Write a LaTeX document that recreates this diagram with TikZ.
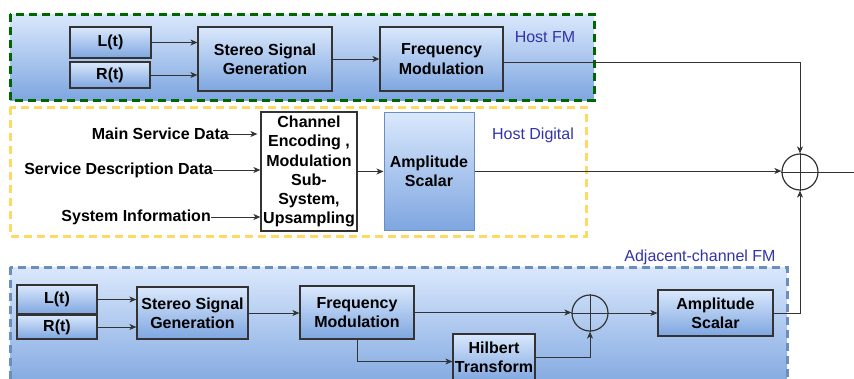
\documentclass[tikz,border=0pt]{standalone}
\usepackage{fontspec}
\setmainfont{Liberation Sans}
\usetikzlibrary{arrows.meta}
\definecolor{gradtop}{HTML}{DAE8FC}
\definecolor{gradbot}{HTML}{7EA6E0}
\definecolor{fmgreen}{HTML}{006600}
\definecolor{digyellow}{HTML}{FFD966}
\definecolor{adjblue}{HTML}{6C8EBF}
\definecolor{labelblue}{HTML}{3333AA}
\definecolor{wire}{HTML}{333333}
\tikzset{
  groupframe/.style={line width=3pt, dash pattern=on 8pt off 5pt},
  gradfill/.style={top color=gradtop, bottom color=gradbot},
  blockbox/.style={draw=wire, line width=1.2pt, gradfill, inner sep=0pt, align=center,
    font=\fontsize{16}{19.2}\selectfont\bfseries},
  plainbox/.style={draw=wire, line width=1.2pt, fill=white, inner sep=0pt, align=center,
    font=\fontsize{16}{19.2}\selectfont\bfseries},
  inlabel/.style={inner sep=0pt, font=\fontsize{16}{19.2}\selectfont\bfseries},
  grouplabel/.style={inner sep=0pt, text=labelblue, font=\fontsize{16}{19.2}\selectfont},
  sumnode/.style={circle, draw=wire, line width=1.2pt, minimum size=36pt, inner sep=0pt},
  sig/.style={draw=wire, line width=1pt},
  sigarrow/.style={sig, -{Stealth[length=7pt, width=6pt, inset=2pt]}}
}
\begin{document}
\begin{tikzpicture}[x=1pt, y=-1pt]
\useasboundingbox (0,0) rectangle (854,378);

% ---- group frames ----
\path[gradfill, draw=fmgreen, groupframe] (10,14) rectangle (594,100);
\path[draw=digyellow, groupframe] (10,107) rectangle (586,236);
\path[top color=gradtop, bottom color=gradbot!95!white, draw=adjblue, groupframe] (10,267) rectangle (787,382);

\node[grouplabel] (lblfm) at (545,37) {Host FM};
\node[grouplabel] (lbldig) at (533,135) {Host Digital};
\node[grouplabel] (lbladj) at (700,257) {Adjacent-channel FM};

% ---- Host FM chain ----
\node[blockbox, minimum width=81pt, minimum height=31pt] (l1) at (110.5,42.5) {L(t)};
\node[blockbox, minimum width=80pt, minimum height=26pt] (r1) at (110,75) {R(t)};
\node[blockbox, minimum width=134pt, minimum height=64pt] (ssg1) at (265,59) {Stereo Signal\\Generation};
\node[blockbox, minimum width=123pt, minimum height=64pt] (fm1) at (441.5,59) {Frequency\\Modulation};

\draw[sigarrow] (l1.east) -- (l1.east -| ssg1.west);
\draw[sigarrow] (r1.east) -- (r1.east -| ssg1.west);
\draw[sigarrow] (ssg1.east) -- (fm1.west);

% ---- Host Digital chain ----
\node[plainbox, minimum width=96pt, minimum height=119pt] (ce) at (309,171.5)
  {Channel\\Encoding ,\\Modulation\\Sub-\\System,\\Upsampling};
\node[draw=adjblue, line width=1pt, gradfill, inner sep=0pt, align=center,
  font=\fontsize{16}{19.2}\selectfont\bfseries,
  minimum width=90pt, minimum height=118pt] (as1) at (429,171) {Amplitude\\Scalar};

\node[inlabel, anchor=east] (msd) at (229,134) {Main Service Data};
\node[inlabel, anchor=east] (sdd) at (213,170) {Service Description Data};
\node[inlabel, anchor=east] (sysi) at (211,217) {System Information};

\draw[sigarrow] ([xshift=-3pt]msd.east) -- ([xshift=-3pt]msd.east -| ce.west);
\draw[sigarrow] (sdd.east) -- (sdd.east -| ce.west);
\draw[sigarrow] (sysi.east) -- (sysi.east -| ce.west);
\draw[sigarrow] (ce.east) -- (ce.east -| as1.west);

% ---- main combiner ----
\node[sumnode] (sum) at (800,172) {};
\draw[sig] (sum.north) -- (sum.south) (sum.west) -- (sum.east);
\coordinate (out) at (854,172);
\draw[sig] (sum.east) -- (out);

\draw[sigarrow] ([yshift=-3pt]fm1.east) -| (sum.north);
\draw[sigarrow] (as1.east) -- (as1.east -| sum.west);

% ---- Adjacent-channel FM chain ----
\node[blockbox, minimum width=80pt, minimum height=29pt] (l2) at (57,299.5) {L(t)};
\node[blockbox, minimum width=80pt, minimum height=24pt] (r2) at (57,327) {R(t)};
\node[blockbox, minimum width=111pt, minimum height=52pt] (ssg2) at (192.5,313) {Stereo Signal\\Generation};
\node[blockbox, minimum width=114pt, minimum height=53pt] (fm2) at (357,312.5) {Frequency\\Modulation};
\node[blockbox, minimum width=82pt, minimum height=47pt] (ht) at (494,357.5) {Hilbert\\Transform};
\node[sumnode] (sum2) at (590,313) {};
\draw[sig] (sum2.north) -- (sum2.south) (sum2.west) -- (sum2.east);
\node[blockbox, minimum width=115pt, minimum height=46pt] (as2) at (715.5,313) {Amplitude\\Scalar};

\draw[sigarrow] (l2.east) -- (l2.east -| ssg2.west);
\draw[sigarrow] (r2.east) -- (r2.east -| ssg2.west);
\draw[sigarrow] (ssg2.east) -- (ssg2.east -| fm2.west);
\draw[sigarrow] (fm2.east) -- (fm2.east -| sum2.west);
\draw[sigarrow] (fm2.south) |- ([yshift=-4pt]ht.west);
\draw[sigarrow] (ht.east) -| (sum2.south);
\draw[sigarrow] (sum2.east) -- (as2.west);
\draw[sigarrow] (as2.east) -| (sum.south);
\end{tikzpicture}
\end{document}
